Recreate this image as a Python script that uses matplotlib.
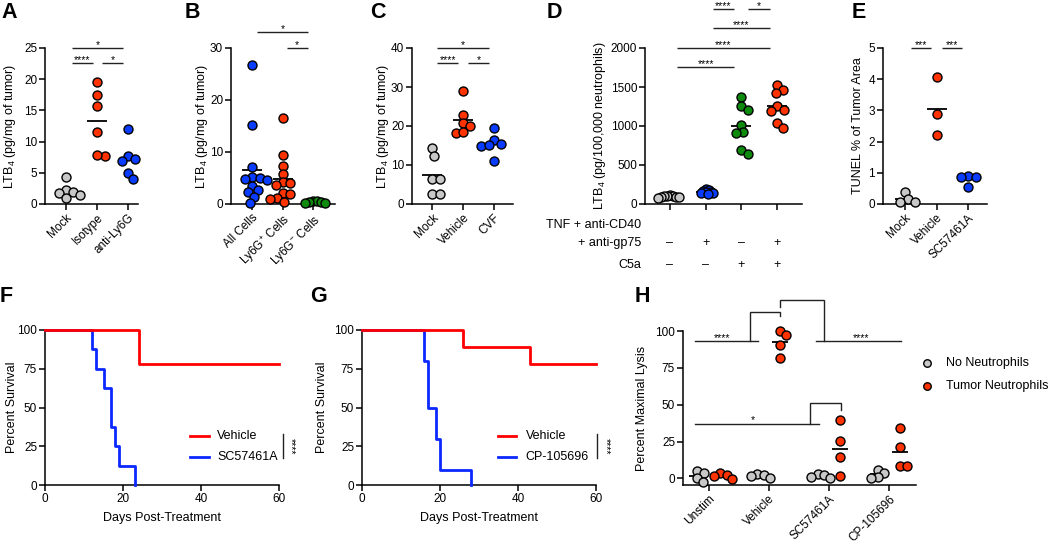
import numpy as np
import matplotlib
matplotlib.use('Agg')
import matplotlib.pyplot as plt

plt.rcParams['font.family'] = ['Liberation Sans', 'DejaVu Sans']
plt.rcParams['mathtext.default'] = 'regular'
plt.rcParams['font.size'] = 8.5

W, H = 1050, 543
fig = plt.figure(figsize=(W / 100, H / 100), dpi=100)

GRAY = '#C8C8C8'
RED = '#FF3300'
BLUE = '#0A3CFF'
GREEN = '#0E8A0E'
LRED = '#FF0000'
LBLUE = '#0A28FF'

# ---------------- data ----------------
A_groups = ['Mock', 'Isotype', 'anti-Ly6G']
A_mock = [4.4, 2.3, 2.0, 1.8, 1.4, 0.9]
A_iso = [19.5, 17.4, 15.7, 11.6, 7.7, 7.9]
A_ly6g = [12.0, 7.7, 7.2, 6.9, 4.9, 4.0]

B_groups = ['All Cells', 'Ly6G$^{+}$ Cells', 'Ly6G$^{-}$ Cells']
B_all = [26.8, 15.1, 7.1, 5.2, 5.0, 4.8, 4.6, 3.5, 2.7, 2.3, 1.4, 0.1]
B_pos = [16.5, 9.4, 7.4, 5.8, 4.3, 4.0, 3.7, 2.2, 2.0, 1.1, 1.0, 0.4]
B_neg = [0.6, 0.5, 0.4, 0.3, 0.2, 0.1]

C_groups = ['Mock', 'Vehicle', 'CVF']
C_mock = [14.3, 12.4, 6.4, 6.3, 2.6, 2.6]
C_veh = [28.9, 22.9, 20.7, 19.9, 18.2, 18.4]
C_cvf = [19.6, 16.4, 15.4, 14.9, 15.0, 11.0]

D_row1 = ['–', '+', '–', '+']
D_row2 = ['–', '–', '+', '+']
D_unstim = [115, 108, 102, 98, 95, 90, 86, 80]
D_tnf = [195, 185, 170, 160, 150, 145, 135, 130]
D_c5a = [1378, 1250, 1207, 1015, 920, 907, 693, 638]
D_both = [1520, 1464, 1421, 1250, 1199, 1186, 1036, 971]

E_groups = ['Mock', 'Vehicle', 'SC57461A']
E_mock = [0.38, 0.15, 0.08, 0.05]
E_veh = [4.06, 2.88, 2.22]
E_sc = [0.90, 0.85, 0.85, 0.56]

F_veh_t = [0, 24, 60]
F_veh_s = [100, 77.8, 77.8]
F_sc_t = [0, 12, 13, 15, 17, 18, 19, 23]
F_sc_s = [100, 87.5, 75, 62.5, 37.5, 25, 12.5, 0]

G_veh_t = [0, 26, 43, 60]
G_veh_s = [100, 88.9, 77.8, 77.8]
G_cp_t = [0, 16, 17, 19, 20, 28]
G_cp_s = [100, 80, 50, 30, 10, 0]

H_groups = ['Unstim', 'Vehicle', 'SC57461A', 'CP-105696']
H_none_unstim = [5.0, 3.8, 0.0, -2.7]
H_none_veh = [2.7, 2.0, 1.5, 0.3]
H_none_sc = [2.8, 2.0, 1.2, 0.0]
H_none_cp = [5.8, 3.8, 1.0, 0.4]
H_tum_unstim = [3.5, 2.3, 1.8, -0.2]
H_tum_veh = [100, 97.5, 90.7, 82]
H_tum_sc = [39.5, 25.5, 14.2, 1.8]
H_tum_cp = [34.3, 21.4, 8.4, 8.4]

DIAM = 9.0
STAR_FS = 7.5
LAB_FS = 9


# ---------------- helpers ----------------
def add_ax(x0, x1, ytop, ybot):
    return fig.add_axes([x0 / W, 1 - ybot / H, (x1 - x0) / W, (ybot - ytop) / H])


def style(ax):
    for s in ['top', 'right']:
        ax.spines[s].set_visible(False)
    for s in ['left', 'bottom']:
        ax.spines[s].set_linewidth(1.1)
    ax.tick_params(direction='out', length=4.5, width=1.1, labelsize=8.5, pad=1.2)


def scales(ax):
    pos = ax.get_position()
    xl, yl = ax.get_xlim(), ax.get_ylim()
    return pos.width * W / (xl[1] - xl[0]), pos.height * H / (yl[1] - yl[0])


def swarm(ax, xc, vals, color, diam=DIAM, sep=0.85, mean_hw=10, mean=True):
    sx, sy = scales(ax)
    d = diam * sep
    vals = np.asarray(vals, float)
    xs = np.zeros(len(vals))
    placed = []
    for i in np.argsort(-vals):
        y = vals[i] * sy
        cands = [0.0]
        for px, py in placed:
            dy = y - py
            if abs(dy) < d:
                dx = np.sqrt(d * d - dy * dy)
                cands += [px + dx, px - dx]
        cands = sorted(cands, key=lambda c: (round(abs(c), 6), -c))
        chosen = cands[-1]
        for c in cands:
            if all((c - px) ** 2 + (y - py) ** 2 >= d * d - 1e-6 for px, py in placed):
                chosen = c
                break
        placed.append((chosen, y))
        xs[i] = chosen
    ax.scatter(xc + xs / sx, vals, s=(diam * 0.72) ** 2, c=color, edgecolors='black',
               linewidths=1.0, zorder=3, clip_on=False)
    if mean:
        m = vals.mean()
        ax.plot([xc - mean_hw / sx, xc + mean_hw / sx], [m, m], color='black', lw=1.3,
                zorder=2, solid_capstyle='butt', clip_on=False)


def sig(ax, x1, x2, y, text, fs=STAR_FS):
    ax.plot([x1, x2], [y, y], color='#222222', lw=1.0, clip_on=False, solid_capstyle='butt')
    ax.text((x1 + x2) / 2, y, text, ha='center', va='baseline', fontsize=fs, clip_on=False)


def ylabel_at(ax, text, right_px):
    ax.set_ylabel(text, fontsize=LAB_FS)
    pos = ax.get_position()
    ax.yaxis.set_label_coords((right_px / W - pos.x0) / pos.width, 0.5)


def letter(ch, x, yc):
    fig.text(x / W, 1 - yc / H, ch, fontsize=15.5, fontweight='bold', ha='left', va='center')


def cat_axes(ax, labels, rot=True):
    ax.set_xticks(range(len(labels)))
    if rot:
        ax.set_xticklabels(labels, rotation=45, ha='right', rotation_mode='anchor', fontsize=8.5)
    else:
        ax.set_xticklabels(labels)


# ---------------- Panel A ----------------
axA = add_ax(45, 138, 48, 204)
axA.set_xlim(-0.68, 2.32)
axA.set_ylim(0, 25)
axA.set_yticks([0, 5, 10, 15, 20, 25])
style(axA)
cat_axes(axA, A_groups)
swarm(axA, 0, A_mock, GRAY)
swarm(axA, 1, A_iso, RED)
swarm(axA, 2, A_ly6g, BLUE)
sig(axA, 0.19, 1.84, 25.0, '*')
sig(axA, 0.19, 0.87, 22.6, '****')
sig(axA, 1.16, 1.84, 22.6, '*')
ylabel_at(axA, 'LTB$_4$ (pg/mg of tumor)', 18)

# ---------------- Panel B ----------------
axB = add_ax(231, 335, 48, 204)
axB.set_xlim(-0.69, 2.72)
axB.set_ylim(0, 30)
axB.set_yticks([0, 10, 20, 30])
style(axB)
cat_axes(axB, B_groups)
swarm(axB, 0, B_all, BLUE)
swarm(axB, 1, B_pos, RED)
swarm(axB, 2, B_neg, GREEN, sep=0.45)
sig(axB, 0.16, 1.84, 33.1, '*')
sig(axB, 1.13, 1.84, 30.0, '*')
ylabel_at(axB, 'LTB$_4$ (pg/mg of tumor)', 210)

# ---------------- Panel C ----------------
axC = add_ax(412, 513, 48, 204)
axC.set_xlim(-0.65, 2.61)
axC.set_ylim(0, 40)
axC.set_yticks([0, 10, 20, 30, 40])
style(axC)
cat_axes(axC, C_groups)
swarm(axC, 0, C_mock, GRAY)
swarm(axC, 1, C_veh, RED)
swarm(axC, 2, C_cvf, BLUE)
sig(axC, 0.16, 1.84, 40.0, '*')
sig(axC, 0.16, 0.84, 36.2, '****')
sig(axC, 1.16, 1.84, 36.2, '*')
ylabel_at(axC, 'LTB$_4$ (pg/mg of tumor)', 391)

# ---------------- Panel D ----------------
axD = add_ax(645, 802, 48, 204)
axD.set_xlim(-0.7, 3.7)
axD.set_ylim(0, 2000)
axD.set_yticks([0, 500, 1000, 1500, 2000])
style(axD)
axD.set_xticks(range(4))
axD.set_xticklabels([])
swarm(axD, 0, D_unstim, GRAY, sep=0.33)
swarm(axD, 1, D_tnf, BLUE, sep=0.33)
swarm(axD, 2, D_c5a, GREEN)
swarm(axD, 3, D_both, RED)
sig(axD, 0.2, 1.8, 1760, '****')
sig(axD, 0.2, 2.8, 2004, '****')
sig(axD, 1.2, 2.8, 2253, '****')
sig(axD, 1.2, 1.8, 2496, '****')
sig(axD, 2.2, 2.8, 2496, '*')
ylabel_at(axD, 'LTB$_4$ (pg/100,000 neutrophils)', 608)
xtD = axD.get_xaxis_transform()
for i in range(4):
    axD.text(i, (204 - 243) / 156, D_row1[i], transform=xtD, ha='center', va='center', fontsize=LAB_FS, clip_on=False)
    axD.text(i, (204 - 265) / 156, D_row2[i], transform=xtD, ha='center', va='center', fontsize=LAB_FS, clip_on=False)
fig.text(641 / W, 1 - 225 / H, 'TNF + anti-CD40', ha='right', va='center', fontsize=LAB_FS)
fig.text(641 / W, 1 - 243 / H, '+ anti-gp75', ha='right', va='center', fontsize=LAB_FS)
fig.text(641 / W, 1 - 265 / H, 'C5a', ha='right', va='center', fontsize=LAB_FS)

# ---------------- Panel E ----------------
axE = add_ax(883, 987, 48, 204)
axE.set_xlim(-0.7, 2.6)
axE.set_ylim(0, 5)
axE.set_yticks([0, 1, 2, 3, 4, 5])
style(axE)
cat_axes(axE, E_groups)
swarm(axE, 0, E_mock, GRAY)
swarm(axE, 1, E_veh, RED)
swarm(axE, 2, E_sc, BLUE)
sig(axE, 0.19, 0.83, 5.0, '***')
sig(axE, 1.17, 1.81, 5.0, '***')
ylabel_at(axE, 'TUNEL % of Tumor Area', 864)


# ---------------- Panels F, G ----------------
def survival(ax, t1, s1, t2, s2, name2, leg_x0, leg_x1, txt_x, bar_x, star_x):
    ax.set_xlim(0, 60)
    ax.set_ylim(0, 100)
    ax.set_xticks([0, 20, 40, 60])
    ax.set_yticks([0, 25, 50, 75, 100])
    style(ax)
    ax.step(t2, s2, where='post', color=LBLUE, lw=2.0, clip_on=False, zorder=3)
    ax.step(t1, s1, where='post', color=LRED, lw=2.0, clip_on=False, zorder=4)
    ax.set_xlabel('Days Post-Treatment', fontsize=LAB_FS, labelpad=5)
    ya, yb = 0.316, 0.181
    ax.plot([leg_x0, leg_x1], [ya, ya], color=LRED, lw=2.0, transform=ax.transAxes, clip_on=False)
    ax.plot([leg_x0, leg_x1], [yb, yb], color=LBLUE, lw=2.0, transform=ax.transAxes, clip_on=False)
    ax.text(txt_x, ya, 'Vehicle', transform=ax.transAxes, va='center', ha='left', fontsize=LAB_FS)
    ax.text(txt_x, yb, name2, transform=ax.transAxes, va='center', ha='left', fontsize=LAB_FS)
    ax.plot([bar_x, bar_x], [ya + 0.01, yb - 0.01], color='#222222', lw=1.0, transform=ax.transAxes, clip_on=False)
    ax.text(star_x, (ya + yb) / 2, '****', transform=ax.transAxes, rotation=-90, ha='center', va='center', fontsize=STAR_FS)


axF = add_ax(45, 279, 330, 485)
survival(axF, F_veh_t, F_veh_s, F_sc_t, F_sc_s, 'SC57461A', 0.62, 0.70, 0.735, 1.017, 1.05)
ylabel_at(axF, 'Percent Survival', 18)

axG = add_ax(362, 596, 330, 485)
survival(axG, G_veh_t, G_veh_s, G_cp_t, G_cp_s, 'CP-105696', 0.58, 0.66, 0.70, 1.004, 1.04)
ylabel_at(axG, 'Percent Survival', 328)

# ---------------- Panel H ----------------
axH = add_ax(683, 916, 331, 485)
axH.set_xlim(-0.43, 3.45)
axH.set_ylim(-4.5, 100)
axH.set_yticks([0, 25, 50, 75, 100])
style(axH)
axH.spines['left'].set_bounds(-4.5, 100)
cat_axes(axH, H_groups)
off = 0.19
for i, (gn, tm) in enumerate(zip([H_none_unstim, H_none_veh, H_none_sc, H_none_cp],
                                 [H_tum_unstim, H_tum_veh, H_tum_sc, H_tum_cp])):
    swarm(axH, i - off, gn, GRAY, mean_hw=8, sep=0.75)
    swarm(axH, i + off, tm, RED, mean_hw=8, sep=0.75)


def hl(xs, ys):
    axH.plot(xs, ys, color='#222222', lw=1.0, clip_on=False, solid_joinstyle='miter')


# left ****
hl([-0.23, 0.82], [93.0, 93.0])
hl([0.68, 0.68, 1.19, 1.19], [93.0, 112.8, 112.8, 109.9])
axH.text(0.22, 93.0, '****', ha='center', va='baseline', fontsize=STAR_FS)
# right ****
hl([1.79, 3.2], [93.0, 93.0])
hl([1.92, 1.92, 1.19, 1.19], [93.0, 121.2, 121.2, 116.6])
axH.text(2.54, 93.0, '****', ha='center', va='baseline', fontsize=STAR_FS)
# *
hl([-0.23, 1.84], [37.2, 37.2])
hl([1.69, 1.69, 2.2, 2.2], [37.2, 51.2, 51.2, 46.7])
axH.text(0.73, 37.2, '*', ha='center', va='baseline', fontsize=STAR_FS)
ylabel_at(axH, 'Percent Maximal Lysis', 648)

# legend H
for yy, col, lab in [(0.792, GRAY, 'No Neutrophils'), (0.643, RED, 'Tumor Neutrophils')]:
    axH.scatter([1.047], [yy], s=(7.5 * 0.72) ** 2, c=col, edgecolors='black', linewidths=1.0,
                transform=axH.transAxes, clip_on=False, zorder=5)
    axH.text(1.129, yy, lab, transform=axH.transAxes, ha='left', va='center', fontsize=LAB_FS)

# ---------------- panel letters ----------------
for ch, x, y in [('A', 1, 12.5), ('B', 185, 12.5), ('C', 370, 12.5), ('D', 547, 12.5),
                 ('E', 852, 12.5), ('F', 0, 297), ('G', 310, 297), ('H', 635, 297)]:
    letter(ch, x, y)

fig.savefig('out.png', dpi=100)
